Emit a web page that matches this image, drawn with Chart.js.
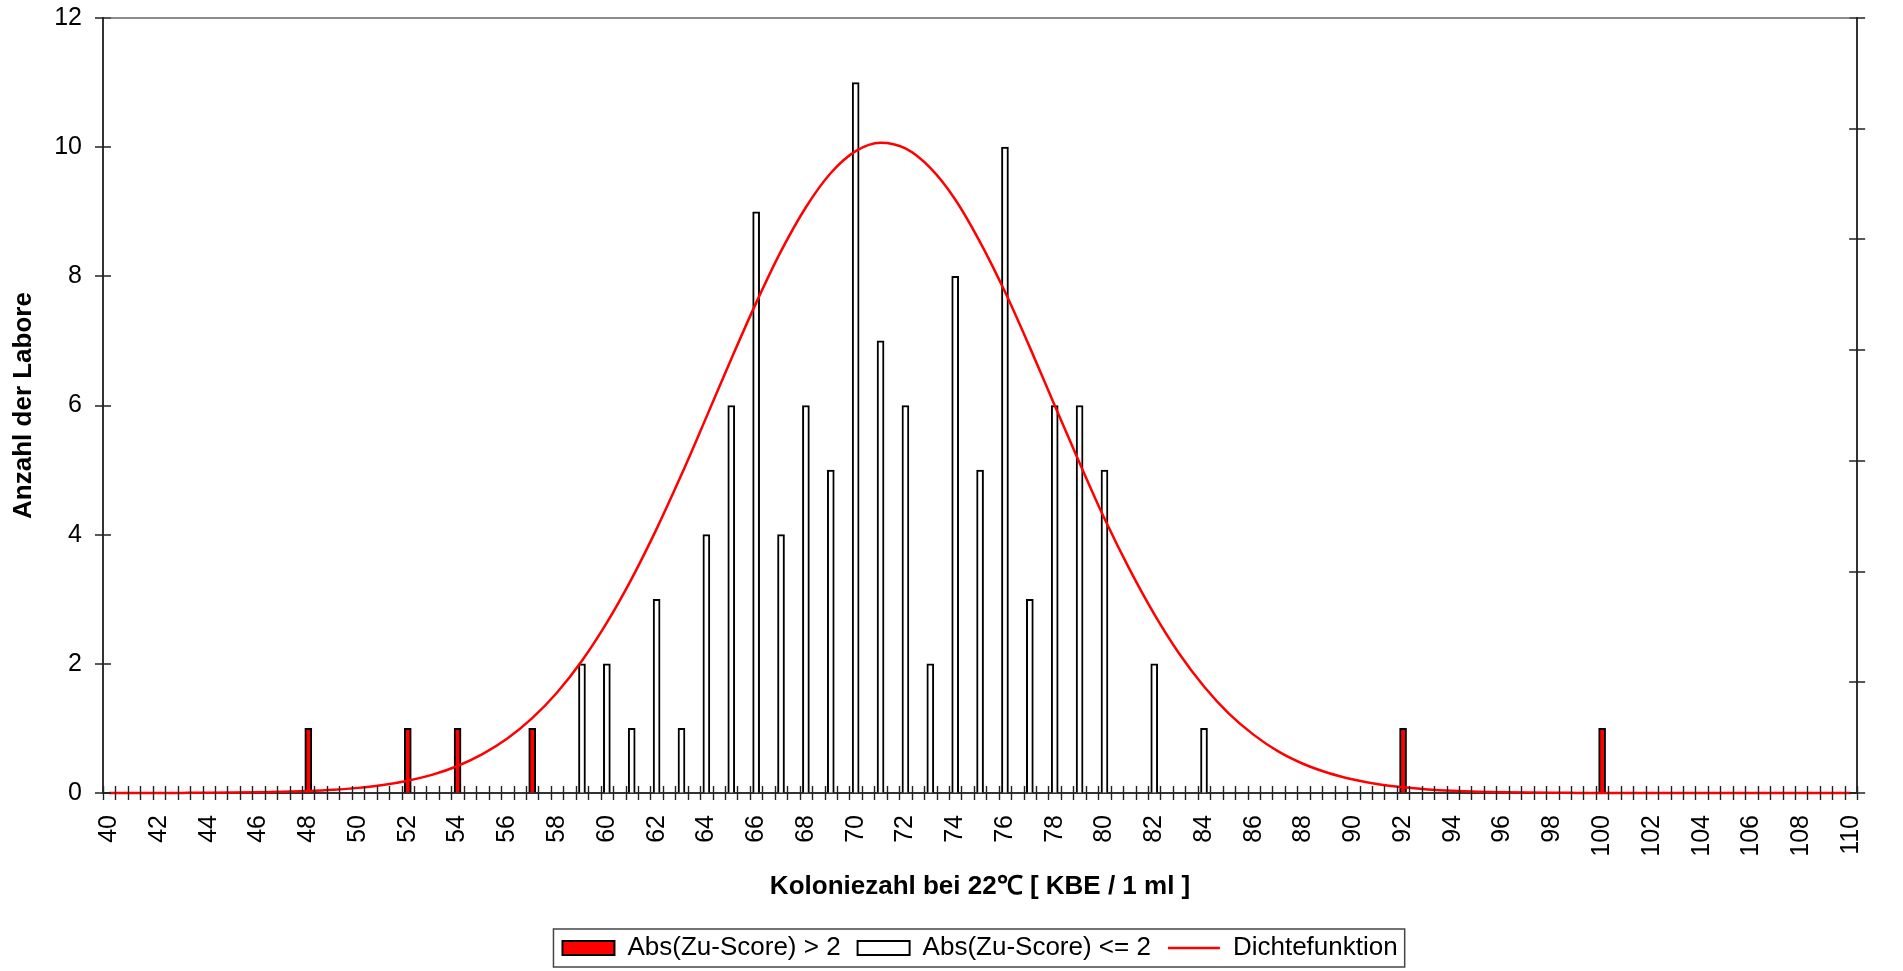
<!DOCTYPE html>
<html>
<head>
<meta charset="utf-8">
<script src="https://cdn.jsdelivr.net/npm/chart.js@4/dist/chart.umd.min.js"></script>
<style>
	html, body { margin: 0; padding: 0; background: #fff; }
	#wrap { width: 1903px; height: 971px; }
</style>
</head>
<body>
<div id="wrap"><canvas id="chart"></canvas></div>
<script>
// laboratories with |z-score| > 2
const outlierValues = [48, 52, 54, 57, 92, 100];
const outlierCounts = [1, 1, 1, 1, 1, 1];

// laboratories with |z-score| <= 2
const inlierValues = [59, 60, 61, 62, 63, 64, 65, 66, 67, 68, 69, 70, 71, 72, 73, 74, 75, 76, 77, 78, 79, 80, 82, 84];
const inlierCounts = [2, 2, 1, 3, 1, 4, 6, 9, 4, 6, 5, 11, 7, 6, 2, 8, 5, 10, 3, 6, 6, 5, 2, 1];

// density curve (secondary axis 0 - 0.07)
const densityX = [40, 41, 42, 43, 44, 45, 46, 47, 48, 49, 50, 51, 52, 53, 54, 55, 56, 57, 58, 59,
	60, 61, 62, 63, 64, 65, 66, 67, 68, 69, 70, 71, 72, 73, 74, 75, 76, 77, 78, 79,
	80, 81, 82, 83, 84, 85, 86, 87, 88, 89, 90, 91, 92, 93, 94, 95, 96, 97, 98, 99,
	100, 101, 102, 103, 104, 105, 106, 107, 108, 109, 110];
const densityY = [0.000002, 0.000003, 0.000006, 0.000011, 0.00002, 0.000036, 0.000062, 0.000105, 0.000176, 0.000289,
	0.000463, 0.000725, 0.00111, 0.00166, 0.00244, 0.00351, 0.00492, 0.00676, 0.00908, 0.01195,
	0.01539, 0.01937, 0.02386, 0.02876, 0.03395, 0.0392, 0.04427, 0.04894, 0.05291, 0.056,
	0.05798, 0.05874, 0.05822, 0.05646, 0.05361, 0.04976, 0.04527, 0.04025, 0.035, 0.02981,
	0.02479, 0.02024, 0.01616, 0.0126, 0.00962, 0.00717, 0.00525, 0.00373, 0.00262, 0.00181,
	0.00122, 0.00079, 0.00051, 0.00032, 0.0002, 0.00012, 0.00007, 0.00004, 0.00002, 0.00001,
	0, 0, 0, 0, 0, 0, 0, 0, 0, 0, 0];

// axis ticks
const xTickLabels = [40, 42, 44, 46, 48, 50, 52, 54, 56, 58, 60, 62, 64, 66, 68, 70, 72, 74,
	76, 78, 80, 82, 84, 86, 88, 90, 92, 94, 96, 98, 100, 102, 104, 106, 108, 110];
const yTickLabels = [0, 2, 4, 6, 8, 10, 12];
const y2Ticks = [0, 0.01, 0.02, 0.03, 0.04, 0.05, 0.06, 0.07];

const X_MIN = 39.75;
const X_MAX = 110.25;
const FONT = '"Liberation Sans", Arial, sans-serif';

let toPoints = (xs, ys) => xs.map((v, i) => ({ x: v, y: ys[i] }));

// tick marks crossing the axes, top border and legend frame
let frame = {
	id: 'frame',
	afterDraw (chart) {
		let { ctx, chartArea: a, scales: { x, y, y2 } } = chart;
		ctx.save();

		ctx.strokeStyle = '#222';
		ctx.lineWidth = 1.4;
		ctx.beginPath();
		// x tick marks sit between the half-unit classes
		for (let v = X_MIN; v <= X_MAX + 1e-6; v += 0.5) {
			let px = Math.round(x.getPixelForValue(v)) + 0.5;
			ctx.moveTo(px, a.bottom - 7);
			ctx.lineTo(px, a.bottom + 7);
		}
		yTickLabels.forEach(v => {
			let py = Math.round(y.getPixelForValue(v));
			ctx.moveTo(a.left - 8, py);
			ctx.lineTo(a.left + 8, py);
		});
		y2Ticks.forEach(v => {
			let py = Math.round(y2.getPixelForValue(v));
			ctx.moveTo(a.right - 8, py);
			ctx.lineTo(a.right + 8, py);
		});
		ctx.stroke();

		// top border of the plot area
		ctx.strokeStyle = '#8c8c8c';
		ctx.lineWidth = 2;
		ctx.beginPath();
		ctx.moveTo(a.left + 8, a.top);
		ctx.lineTo(a.right - 8, a.top);
		ctx.stroke();

		// frame round the legend
		let boxes = chart.legend.legendHitBoxes;
		if (boxes && boxes.length) {
			let left = Math.min(...boxes.map(b => b.left));
			let right = Math.max(...boxes.map(b => b.left + b.width));
			let top = Math.min(...boxes.map(b => b.top));
			let bottom = Math.max(...boxes.map(b => b.top + b.height));
			ctx.strokeStyle = '#444';
			ctx.lineWidth = 1.5;
			ctx.strokeRect(left - 9, top - 6, right - left + 16, bottom - top + 12);
		}
		ctx.restore();
	},
};

let config = {
	type: 'bar',
	data: {
		datasets: [
			{
				label: 'Abs(Zu-Score) > 2',
				data: toPoints(outlierValues, outlierCounts),
				backgroundColor: '#ff0000',
				borderColor: '#000',
				borderWidth: 2,
				borderSkipped: 'start',
				barThickness: 7,
				grouped: false,
				pointStyle: 'rect',
				yAxisID: 'y',
			},
			{
				label: 'Abs(Zu-Score) <= 2',
				data: toPoints(inlierValues, inlierCounts),
				backgroundColor: '#fff',
				borderColor: '#000',
				borderWidth: 2,
				borderSkipped: 'start',
				barThickness: 7,
				grouped: false,
				pointStyle: 'rect',
				yAxisID: 'y',
			},
			{
				type: 'line',
				label: 'Dichtefunktion',
				data: toPoints(densityX, densityY),
				borderColor: '#ff0000',
				backgroundColor: '#ff0000',
				borderWidth: 2.5,
				pointRadius: 0,
				pointStyle: 'line',
				cubicInterpolationMode: 'monotone',
				clip: false,
				order: -1,
				yAxisID: 'y2',
			},
		],
	},
	options: {
		responsive: true,
		maintainAspectRatio: false,
		animation: false,
		events: [],
		layout: { padding: 0 },
		plugins: {
			tooltip: { enabled: false },
			legend: {
				position: 'bottom',
				fullSize: false,
				labels: {
					usePointStyle: true,
					pointStyleWidth: 52,
					boxHeight: 14,
					padding: 17,
					color: '#000',
					font: { family: FONT, size: 26 },
					sort: (a, b) => a.datasetIndex - b.datasetIndex,
				},
			},
		},
		scales: {
			x: {
				type: 'linear',
				min: X_MIN,
				max: X_MAX,
				offset: false,
				afterBuildTicks: scale => { scale.ticks = xTickLabels.map(v => ({ value: v })); },
				afterFit: scale => { scale.height = 125; },
				grid: { display: false, drawTicks: false },
				border: { display: true, color: '#333', width: 2 },
				ticks: {
					autoSkip: false,
					minRotation: 90,
					maxRotation: 90,
					padding: 22,
					color: '#000',
					font: { family: FONT, size: 25 },
				},
				title: {
					display: true,
					text: 'Koloniezahl bei 22℃ [ KBE / 1 ml ]',
					color: '#000',
					font: { family: FONT, size: 26, weight: 'bold' },
					padding: { top: 0, bottom: 16 },
				},
			},
			y: {
				position: 'left',
				min: 0,
				max: 12,
				afterBuildTicks: scale => { scale.ticks = yTickLabels.map(v => ({ value: v })); },
				afterFit: scale => { scale.width = 103; },
				// tick marks themselves are drawn by the frame plugin; this only reserves the room
				grid: { display: true, drawOnChartArea: false, drawTicks: true, tickLength: 18, tickColor: 'rgba(0,0,0,0)' },
				border: { display: true, color: '#333', width: 2 },
				ticks: {
					padding: 3,
					color: '#000',
					font: { family: FONT, size: 25 },
				},
				title: {
					display: true,
					text: 'Anzahl der Labore',
					color: '#000',
					font: { family: FONT, size: 26, weight: 'bold' },
					padding: { top: 8, bottom: 0 },
				},
			},
			y2: {
				position: 'right',
				min: 0,
				max: 0.07,
				afterBuildTicks: scale => { scale.ticks = y2Ticks.map(v => ({ value: v })); },
				afterFit: scale => { scale.width = 21; },
				grid: { display: false, drawTicks: false },
				border: { display: true, color: '#333', width: 2 },
				ticks: { display: false },
			},
		},
	},
	plugins: [ frame ],
};

new Chart(document.getElementById('chart'), config);
</script>
</body>
</html>
